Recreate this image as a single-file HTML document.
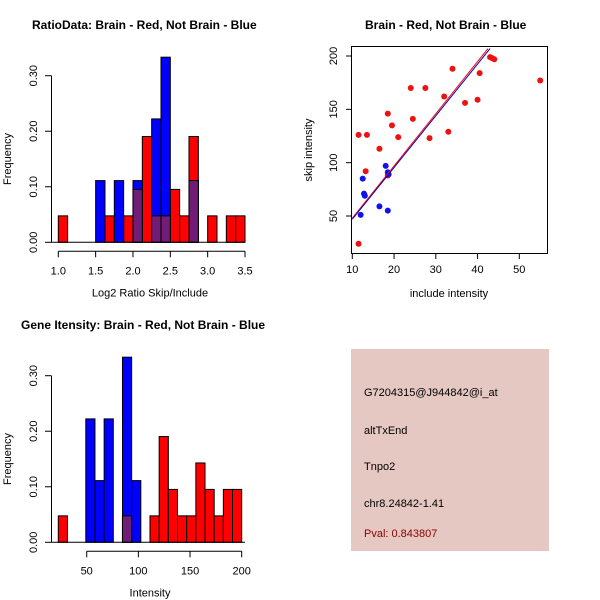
<!DOCTYPE html>
<html><head><meta charset="utf-8"><style>
body{margin:0;background:#fff}
svg{display:block;font-family:"Liberation Sans",sans-serif}
</style></head><body>
<svg id="c" width="600" height="600" viewBox="0 0 600 600"></svg>
<script>
// ---- data ----
const ratioBinStart = 1.0;
const ratioBinWidth = 0.125;
const ratioRed = [1/21,0,0,0,0,1/21,0,1/21,2/21,4/21,1/21,1/21,2/21,1/21,4/21,0,1/21,0,1/21,1/21];
const ratioBlue = [0,0,0,0,1/9,0,1/9,0,1/9,0,2/9,3/9,0,0,1/9,0,0,0,0,0];
const ratioXTicks = [1.0,1.5,2.0,2.5,3.0,3.5];
const freqTicks = [0.00,0.10,0.20,0.30];
const intBinStart = 22.5;
const intBinWidth = 8.875;
const intRed = [1/21,0,0,0,0,0,0,1/21,0,0,1/21,4/21,2/21,1/21,1/21,3/21,2/21,1/21,2/21,2/21];
const intBlue = [0,0,0,2/9,1/9,2/9,0,3/9,1/9,0,0,0,0,0,0,0,0,0,0,0];
const intXTicks = [50,100,150,200];
const redX = [11.5,13.5,13.2,11.5,16.5,18.5,19.5,21,24,24.5,27.5,28.5,32,33,34,37,40,40.5,43,43.5,44,55,18.5];
const redY = [126,126,92,24,113,146,135,124,170,141,170,123,162,129,188,156,159,184,199,198,197,177,88];
const blueX = [12,12.5,12.8,13,16.5,18,18.5,18.5,18.7];
const blueY = [51,85,71,69,59,97,91,55,89];
const redLine = [[10,48],[42.5,207]];
const blueLine = [[10,47],[43,207]];
const scXTicks = [10,20,30,40,50];
const scYTicks = [50,100,150,200];
const infoLines = ["G7204315@J944842@i_at","altTxEnd","Tnpo2","chr8.24842-1.41"];
const pval = "Pval: 0.843807";

const NS="http://www.w3.org/2000/svg";
const svg=document.getElementById('c');
function el(tag,attrs,parent,text){const e=document.createElementNS(NS,tag);for(const k in attrs)e.setAttribute(k,attrs[k]);if(text!==undefined)e.textContent=text;(parent||svg).appendChild(e);return e;}

function histogram(g,red,blue,start,width,xs,ys,ticks,yTicks,xLabel,title,titleX,titleY,prefix){
  const mk=(v,i,fill,lo,hi)=>{const r=el('rect',{x:xs(start+i*width),y:ys(hi),width:xs(start+(i+1)*width)-xs(start+i*width),height:ys(lo)-ys(hi),fill:fill,stroke:'#000','stroke-width':1},g);return r;};
  red.forEach((v,i)=>{if(v>0){const r=mk(v,i,'#ff0000',0,v);
    
    }});
  blue.forEach((v,i)=>{if(v>0){const r=mk(v,i,'#0000ff',0,v);
    
    }});
  red.forEach((v,i)=>{const m=Math.min(v,blue[i]);if(m>0){
    const r=mk(m,i,'#711c77',0,m);
    
    
  }});
  const ya=el('g',{},g);
  
  
  el('line',{x1:51.5,x2:51.5,y1:ys(0),y2:ys(0.3),stroke:'#000'},ya);
  yTicks.forEach(t=>{const y=ys(t);el('line',{x1:45,x2:51.5,y1:y,y2:y,stroke:'#000'},ya);
    el('text',{x:0,y:0,transform:`translate(37,${y}) rotate(-90)`,'text-anchor':'middle','font-size':11},ya,t.toFixed(2));});
  const xa=el('g',{},g);
  
  
  const ay=ys(0)+9;
  el('line',{x1:xs(ticks[0]),x2:xs(ticks[ticks.length-1]),y1:ay,y2:ay,stroke:'#000'},xa);
  ticks.forEach(t=>{const x=xs(t);el('line',{x1:x,x2:x,y1:ay,y2:ay+6,stroke:'#000'},xa);
    el('text',{x:x,y:ay+23,'text-anchor':'middle','font-size':11},xa,String(prefix==='intensity'?t:t.toFixed(1)));});
  el('line',{x1:51.5,x2:245,y1:ys(0),y2:ys(0),stroke:'#000'},g);
  const xl=el('text',{x:150,y:ay+45,'text-anchor':'middle','font-size':11},g,xLabel);
  
  
  const yl=el('text',{transform:`translate(11,${ys(0.15)}) rotate(-90)`,'text-anchor':'middle','font-size':11},g,'Frequency');
  
  
  const tt=el('text',{x:titleX,y:titleY,'font-size':12,'font-weight':'bold'},g,title);
  
  
}

const g1=el('g',{});


const xs1=v=>58.3+(v-1.0)*(245-58.3)/2.5;
const ys1=v=>242.3-v*(242.3-75.7)/0.3;
histogram(g1,ratioRed,ratioBlue,ratioBinStart,ratioBinWidth,xs1,ys1,ratioXTicks,freqTicks,'Log2 Ratio Skip/Include','RatioData: Brain - Red, Not Brain - Blue',32,29,'ratio');

const g2=el('g',{});


const xs2=v=>86.7+(v-50)*(241.7-86.7)/150;
const ys2=v=>542.3-v*(542.3-375.7)/0.3;
histogram(g2,intRed,intBlue,intBinStart,intBinWidth,xs2,ys2,intXTicks,freqTicks,'Intensity','Gene Itensity: Brain - Red, Not Brain - Blue',21,329,'intensity');

const g3=el('g',{});


const sx=v=>352.3+(v-10)*(519.3-352.3)/40;
const sy=v=>216-(v-50)*(216-56)/150;
el('defs',{},g3).innerHTML='<clipPath id="cp"><rect x="352" y="46" width="195" height="207"/></clipPath>';
const st=el('text',{x:365,y:29,'font-size':12,'font-weight':'bold'},g3,'Brain - Red, Not Brain - Blue');


const pg=el('g',{'clip-path':'url(#cp)'},g3);
redX.forEach((x,i)=>{const c=el('circle',{cx:sx(x),cy:sy(redY[i]),r:3,fill:'#ee1111'},pg);
  
  });
blueX.forEach((x,i)=>{const c=el('circle',{cx:sx(x),cy:sy(blueY[i]),r:3,fill:'#1111ee'},pg);
  
  });
const rl=el('line',{x1:sx(redLine[0][0]),y1:sy(redLine[0][1]),x2:sx(redLine[1][0]),y2:sy(redLine[1][1]),stroke:'#ff0000','stroke-width':1},pg);


const bl=el('line',{x1:sx(blueLine[0][0]),y1:sy(blueLine[0][1]),x2:sx(blueLine[1][0]),y2:sy(blueLine[1][1]),stroke:'#0000cc','stroke-width':1},pg);


el('rect',{x:351.5,y:46.5,width:196,height:207,fill:'none',stroke:'#000'},g3);
scXTicks.forEach(t=>{const x=sx(t);el('line',{x1:x,x2:x,y1:253.5,y2:259,stroke:'#000'},g3);
  el('text',{x:x,y:273,'text-anchor':'middle','font-size':11},g3,String(t));});
scYTicks.forEach(t=>{const y=sy(t);el('line',{x1:346,x2:351.5,y1:y,y2:y,stroke:'#000'},g3);
  el('text',{transform:`translate(337,${y}) rotate(-90)`,'text-anchor':'middle','font-size':11},g3,String(t));});
const sxl=el('text',{x:449,y:297,'text-anchor':'middle','font-size':11},g3,'include intensity');


const syl=el('text',{transform:'translate(312,150) rotate(-90)','text-anchor':'middle','font-size':11},g3,'skip intensity');



const g4=el('g',{});


el('rect',{x:351,y:349,width:198,height:202,fill:'#e5c8c2'},g4);
const ys4=[396,434,470,507];
infoLines.forEach((t,i)=>{const e=el('text',{x:364,y:ys4[i],'font-size':11,fill:'#000'},g4,t);
  
  });
const pv=el('text',{x:364,y:537,'font-size':11,fill:'#8b0000'},g4,pval);


</script>
</body></html>
